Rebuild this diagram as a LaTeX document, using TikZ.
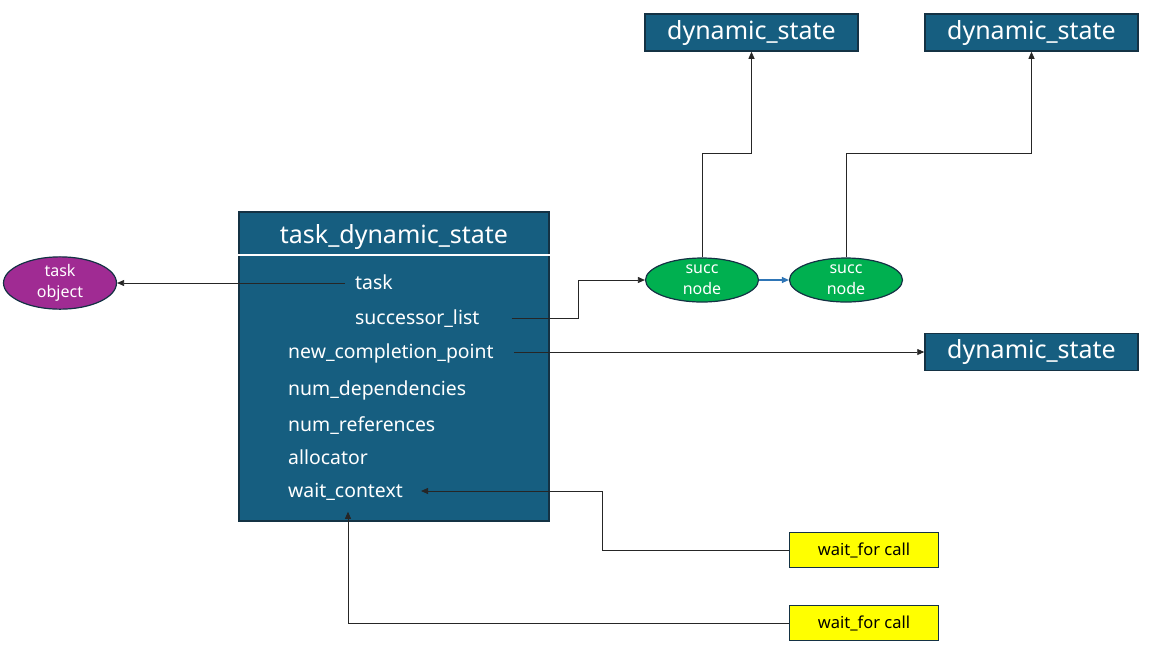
\documentclass[tikz,border=0pt]{standalone}
\usepackage{fontspec}
\setmainfont{Noto Sans}
\usetikzlibrary{arrows.meta}
\usetikzlibrary{positioning}
\usetikzlibrary{shapes.geometric}

\definecolor{boxblue}{RGB}{22,94,128}
\definecolor{boxedge}{RGB}{20,50,68}
\definecolor{succgreen}{RGB}{0,176,80}
\definecolor{objpurple}{RGB}{160,43,147}
\definecolor{linkblue}{RGB}{46,117,182}
\definecolor{callyellow}{RGB}{255,255,0}

\begin{document}
\begin{tikzpicture}[x=1pt,y=-1pt,>={Triangle[length=7pt,width=6pt]},
	conn/.style={->,black!85,line width=0.8pt},
	state node/.style={rectangle,draw=boxedge,line width=1.5pt,fill=boxblue,
		text=white,font=\fontsize{25}{29}\selectfont,minimum width=213pt,
		minimum height=37pt,inner sep=0pt},
	oval node/.style={ellipse,draw=boxedge,line width=1.2pt,text=white,
		align=center,font=\fontsize{16}{21}\selectfont,minimum width=113pt,
		minimum height=44pt,inner sep=0pt},
	call node/.style={rectangle,draw=boxedge,line width=1.5pt,fill=callyellow,
		font=\fontsize{16.5}{19}\selectfont,minimum width=149pt,
		minimum height=35pt,inner sep=0pt},
	field/.style={text=white,font=\fontsize{19.4}{23}\selectfont,anchor=base west,
		inner sep=0pt,text height=14pt,text depth=2pt}]
	
	\useasboundingbox (0,0) rectangle (1165,657);
	
	% main record
	\node[draw=boxedge,line width=1.5pt,fill=boxblue,minimum width=310pt,
		minimum height=309pt,inner sep=0pt] (tds) at (394,366.5) {};
	\node[text=white,font=\fontsize{25}{29}\selectfont,anchor=base] (title)
		at (394,243) {task\_dynamic\_state};
	\coordinate (div) at (0,255);
	\draw[white,line width=1.5pt] (tds.west |- div) -- (tds.east |- div);
	
	\node[field] (tk) at (355,289) {task};
	\node[field] (sl) at (355,324) {successor\_list};
	\node[field] (ncp) at (288,358) {new\_completion\_point};
	\node[field] (nd) at (288,395) {num\_dependencies};
	\node[field] (nr) at (288,431) {num\_references};
	\node[field] (al) at (288,464) {allocator};
	\node[field] (wc) at (288,497) {wait\_context};
	
	% other objects
	\node[oval node,fill=objpurple] (obj) at (60,283) {task\\object};
	\node[oval node,fill=succgreen] (s1) at (702,280) {succ\\node};
	\node[oval node,fill=succgreen] (s2) at (846,280) {succ\\node};
	
	\node[state node] (ds1) at (751.5,32.5) {dynamic\_state};
	\node[state node] (ds2) at (1031.5,32.5) {dynamic\_state};
	\node[state node] (ds3) at (1031.5,352) {dynamic\_state};
	
	\node[call node] (call1) at (864,550) {wait\_for call};
	\node[call node] (call2) at (864,623) {wait\_for call};
	
	% links
	\draw[conn] ([xshift=-10pt]tk.west) -- (obj.east);
	\draw[conn] ([xshift=32pt]sl.east) -- ++(67,0) |- (s1.west);
	\draw[conn] ([xshift=20pt]ncp.east) -- (ncp.east -| ds3.west);
	\draw[conn,linkblue,line width=1.2pt] (s1.east) -- (s2.west);
	\draw[conn] (s1.north) -- ++(0,-104) -| (ds1.south);
	\draw[conn] (s2.north) -- ++(0,-104) -| (ds2.south);
	\draw[conn] (call1.west) -- ++(-186,0) |- ([xshift=18pt]wc.east);
	\draw[conn] (call2.west) -| ([xshift=-46pt,yshift=10pt]tds.south);
\end{tikzpicture}
\end{document}
